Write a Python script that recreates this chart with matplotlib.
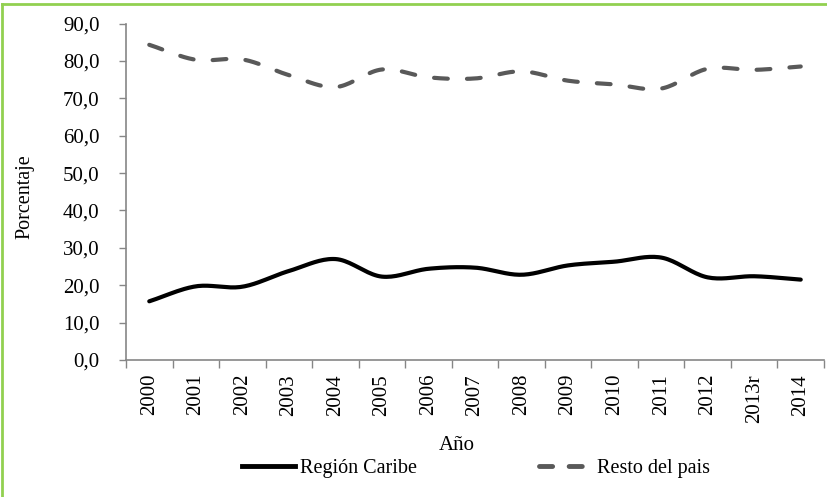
import numpy as np
import matplotlib
matplotlib.use("Agg")
from matplotlib import pyplot as plt
from matplotlib.lines import Line2D
from matplotlib.patches import Rectangle

years = ["2000", "2001", "2002", "2003", "2004", "2005", "2006", "2007",
         "2008", "2009", "2010", "2011", "2012", "2013r", "2014"]
caribe = [15.7, 19.7, 19.6, 23.8, 27.0, 22.3, 24.4, 24.7, 22.8, 25.3, 26.3, 27.4, 22.1, 22.4, 21.5]
resto = [84.3, 80.3, 80.4, 76.2, 73.0, 77.7, 75.6, 75.3, 77.2, 74.7, 73.7, 72.6, 77.9, 77.6, 78.5]

plt.rcParams['font.family'] = ['Liberation Serif', 'DejaVu Serif']


def smooth(xs, ys, n=20):
    # catmull-rom curve through the points (like Excel "smoothed line")
    xs = np.asarray(xs, float)
    ys = np.asarray(ys, float)
    px = np.concatenate([[2 * xs[0] - xs[1]], xs, [2 * xs[-1] - xs[-2]]])
    py = np.concatenate([[2 * ys[0] - ys[1]], ys, [2 * ys[-1] - ys[-2]]])
    outx, outy = [], []
    t = np.linspace(0, 1, n, endpoint=False)
    for i in range(1, len(px) - 2):
        for p, out in ((px, outx), (py, outy)):
            p0, p1, p2, p3 = p[i - 1], p[i], p[i + 1], p[i + 2]
            out.extend(0.5 * (2 * p1 + (-p0 + p2) * t + (2 * p0 - 5 * p1 + 4 * p2 - p3) * t ** 2
                              + (-p0 + 3 * p1 - 3 * p2 + p3) * t ** 3))
    outx.append(xs[-1])
    outy.append(ys[-1])
    return np.array(outx), np.array(outy)


W, H = 828, 497
fig = plt.figure(figsize=(W / 100, H / 100), dpi=100)
ax = fig.add_axes([126 / W, 1 - 360 / H, (824 - 126) / W, (360 - 23.5) / H])

x = np.arange(len(years))
cx, cy = smooth(x, caribe)
rx, ry = smooth(x, resto)
ax.plot(cx, cy, color='black', lw=3, solid_capstyle='round')
ax.plot(rx, ry, color='#595959', lw=3, dashes=(3.3, 4.6), dash_capstyle='round')

ax.set_xlim(-0.5, len(years) - 0.5)
ax.set_ylim(0, 90)
ax.set_yticks(np.arange(0, 91, 10))
ax.set_yticklabels([f"{v:.1f}".replace('.', ',') for v in np.arange(0, 91, 10)], fontsize=15)
ax.set_xticks(x)
ax.set_xticklabels(years, rotation=90, fontsize=15)
ax.set_xticks(np.arange(-0.5, len(years)), minor=True)
ax.tick_params(axis='x', which='major', length=0, pad=10)
ax.tick_params(axis='x', which='minor', length=6, color='#868686', width=1)
ax.tick_params(axis='y', length=5, color='#868686', width=1, pad=14)

for s in ['top', 'right']:
    ax.spines[s].set_visible(False)
for s in ['left', 'bottom']:
    ax.spines[s].set_color('#868686')
    ax.spines[s].set_linewidth(1.2)

fig.text(25 / W, 1 - 197 / H, "Porcentaje", rotation=90, fontsize=14.5, ha='center', va='center')
fig.text(457 / W, 1 - 446 / H, "Año", fontsize=15, ha='center', va='center')
# the axis title is cut off at the bottom in the original
fig.add_artist(Rectangle((420 / W, 1 - 460 / H), 80 / W, 8 / H, transform=fig.transFigure,
                         facecolor='white', edgecolor='none', zorder=4))

handles = [Line2D([], [], color='black', lw=3.5),
           Line2D([], [], color='#595959', lw=3.5, dashes=(2.7, 3.4), dash_capstyle='round')]
leg = fig.legend(handles, ["Región Caribe", "Resto del pais"], loc='center', ncol=2,
                 bbox_to_anchor=(476 / W, 1 - 468 / H), frameon=False, fontsize=14.5,
                 handlelength=2.6, handletextpad=0.25, columnspacing=6.1)
leg.set_zorder(5)

# green frame (top and left edges visible)
fig.add_artist(Line2D([2 / W, 2 / W], [0, 1 - 4 / H], color='#92D050', lw=2))
fig.add_artist(Line2D([2 / W, 1], [1 - 4 / H, 1 - 4 / H], color='#92D050', lw=2))

fig.savefig("out.png", dpi=100)
